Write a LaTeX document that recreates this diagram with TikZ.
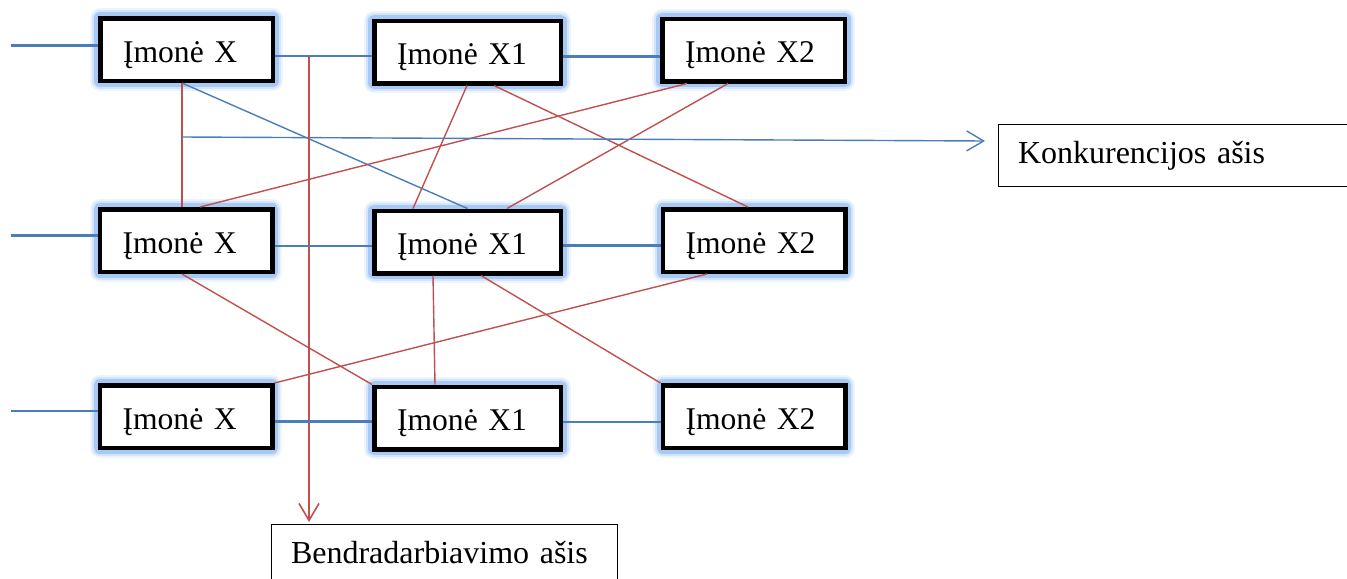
\documentclass[tikz,border=0pt]{standalone}
\usepackage{fontspec}
\setmainfont{Liberation Serif}
\usetikzlibrary{calc,arrows.meta}
\definecolor{axblue}{RGB}{74,126,187}
\definecolor{axred}{RGB}{192,80,77}
\definecolor{glowC}{RGB}{238,244,253}
\definecolor{glowA}{RGB}{212,228,249}
\definecolor{glowB}{RGB}{168,201,243}
\tikzset{
  company/.style={draw=black, line width=2.25pt, fill=white,
    minimum height=31.25pt, inner xsep=11.4pt, inner ysep=0pt,
    align=left, text width=#1, text height=14pt, text depth=1.5pt,
    font=\fontsize{15.8}{19}\selectfont,
    preaction={draw=glowC, line width=10pt, line join=round},
    preaction={draw=glowA, line width=8pt, line join=round},
    preaction={draw=glowB, line width=6pt, line join=round}},
  axisbox/.style={draw=black, line width=0.5pt, fill=white,
    minimum height=31pt, inner xsep=10pt, inner ysep=0pt,
    align=left, text width=#1, text height=10pt, text depth=2pt,
    font=\fontsize{16}{19}\selectfont},
  bthick/.style={draw=axblue, line width=1.5pt},
  bmid/.style={draw=axblue, line width=1pt},
  bthin/.style={draw=axblue, line width=0.7pt},
  redl/.style={draw=axred, line width=0.7pt},
  axtip/.style={-{Straight Barb[length=8.5pt,width=10pt]}}
}
\begin{document}
\begin{tikzpicture}[x=0.5pt,y=-0.5pt]
\useasboundingbox (0,0) rectangle (1347,578);
\clip (0,0) rectangle (1347,578);

% companies
\node[company=63.45pt] (r1x)  at (186.5,49.5) {Įmonė X};
\node[company=70.45pt] (r1x1) at (467.5,52)   {Įmonė X1};
\node[company=68.45pt] (r1x2) at (753.5,50)   {Įmonė X2};
\node[company=63.45pt] (r2x)  at (186,240.5)  {Įmonė X};
\node[company=70.45pt] (r2x1) at (467.5,242)  {Įmonė X1};
\node[company=68.45pt] (r2x2) at (754,240.5)  {Įmonė X2};
\node[company=63.45pt] (r3x)  at (186,416.5)  {Įmonė X};
\node[company=70.45pt] (r3x1) at (467.5,418)  {Įmonė X1};
\node[company=68.45pt] (r3x2) at (754,416.5)  {Įmonė X2};

% axis labels
\node[axisbox=157pt] (konk) at (1175,155) {Konkurencijos ašis};
\node[axisbox=153pt] (bendr) at (444,555) {Bendradarbiavimo ašis};

% free ends
\coordinate (s1) at (11,45);
\coordinate (s2) at (11,235);
\coordinate (s3) at (11,411);
\coordinate (kstart) at (182,137);
\coordinate (kend) at (985,141);
\coordinate (bstart) at (309,56);
\coordinate (bendtip) at (309,522);

% row 1
\draw[bthick] (s1) -- (s1 -| r1x.west);
\draw[bthin] ($(r1x.east)+(0,6.5)$) -- ($(r1x1.west)+(0,4)$);
\draw[bthick] ($(r1x1.east)+(0,4)$) -- ($(r1x2.west)+(0,6)$);
\draw[bthin] ($(r1x.south)+(-4.5,0)$) -- (r2x1.north);
\draw[redl] ($(r1x.south)+(-4.5,0)$) -- ($(r2x.north)+(-4,0)$);
\draw[redl] ($(r1x1.south)+(-0.5,0)$) -- ($(r2x1.north)+(-54.5,0)$);
\draw[redl] ($(r1x1.south)+(26.5,0)$) -- ($(r2x2.north)+(-6,0)$);
\draw[redl] ($(r1x2.south)+(-66.5,0)$) -- ($(r2x.north)+(14,0)$);
\draw[redl] ($(r1x2.south)+(-25.5,0)$) -- ($(r2x1.north)+(39.5,0)$);

% axes
\draw[bthin, axtip] (kstart) -- (kend);
\draw[redl, line width=0.8pt, axtip] (bstart) -- (bendtip);

% row 2
\draw[bthick] (s2) -- (s2 -| r2x.west);
\draw[bmid] ($(r2x.east)+(0,5.5)$) -- ($(r2x1.west)+(0,4)$);
\draw[bthick] ($(r2x1.east)+(0,3)$) -- ($(r2x2.west)+(0,4.5)$);
\draw[redl] ($(r2x.south)+(-4,0)$) -- (r3x1.north west);
\draw[redl] ($(r2x1.south)+(-34.5,0)$) -- ($(r3x1.north)+(-32.5,0)$);
\draw[redl] ($(r2x1.south)+(13.5,0)$) -- (r3x2.north west);
\draw[redl] ($(r2x2.south)+(-47,0)$) -- (r3x.north east);

% row 3
\draw[bmid] (s3) -- (s3 -| r3x.west);
\draw[bthick] ($(r3x.east)+(0,4.5)$) -- ($(r3x1.west)+(0,3)$);
\draw[bthin] ($(r3x1.east)+(0,4)$) -- ($(r3x2.west)+(0,5.5)$);
\end{tikzpicture}
\end{document}
